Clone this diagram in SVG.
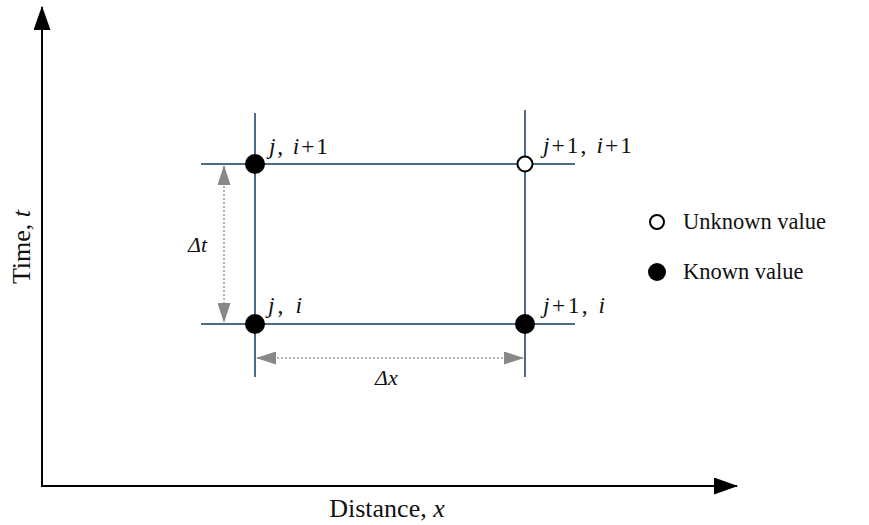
<svg xmlns="http://www.w3.org/2000/svg" width="869" height="525" viewBox="0 0 869 525">
<style>
text{font-family:"Liberation Serif","Times New Roman",serif;font-size:21px;fill:#111}
.i{font-style:italic}
.nl{font-size:23.5px}
.lg{font-size:22.5px}
.ax{font-size:26px}
.grid{stroke:#4a6c8c;stroke-width:2;fill:none}
.axis{stroke:#000;stroke-width:2;fill:none}
.dim{stroke:#999;stroke-width:1.5;stroke-dasharray:2 2;fill:none}
.full{fill:#000}
.open{fill:#fff;stroke:#000;stroke-width:2}
</style>
<defs>
<marker id="ax" markerWidth="24" markerHeight="17" refX="23" refY="8.5" orient="auto" markerUnits="userSpaceOnUse" viewBox="0 0 24 17">
<path d="M0,0 L24,8.5 L0,17 Z" fill="#000"/>
</marker>
<marker id="dm" markerWidth="20" markerHeight="13" refX="19" refY="6.5" orient="auto-start-reverse" markerUnits="userSpaceOnUse" viewBox="0 0 20 13">
<path d="M0,0 L20,6.5 L0,13 Z" fill="#888"/>
</marker>
</defs>
<g id="connectors">
<path class="axis" d="M42,487 L42,7" marker-end="url(#ax)"/>
<path class="axis" d="M41,486 L737,486" marker-end="url(#ax)"/>
<line class="grid" x1="255" y1="113" x2="255" y2="377"/>
<line class="grid" x1="525" y1="110" x2="525" y2="377"/>
<line class="grid" x1="201" y1="164" x2="575" y2="164"/>
<line class="grid" x1="201" y1="324" x2="575" y2="324"/>
<path class="dim" d="M224,166 L224,322" marker-start="url(#dm)" marker-end="url(#dm)"/>
<path class="dim" d="M257,358 L523,358" marker-start="url(#dm)" marker-end="url(#dm)"/>
</g>
<g id="node-j-i1"><circle class="full" cx="255" cy="164" r="10"/><text class="nl" x="269" y="154" textLength="59" lengthAdjust="spacing"><tspan class="i">j</tspan>, <tspan class="i">i</tspan>+1</text></g>
<g id="node-j1-i1"><circle class="open" cx="525" cy="164" r="7.5"/><text class="nl" x="543" y="153" textLength="89" lengthAdjust="spacing"><tspan class="i">j</tspan>+1, <tspan class="i">i</tspan>+1</text></g>
<g id="node-j-i"><circle class="full" cx="255" cy="324" r="10"/><text class="nl" x="268" y="313" textLength="34" lengthAdjust="spacing"><tspan class="i">j</tspan>, <tspan class="i">i</tspan></text></g>
<g id="node-j1-i"><circle class="full" cx="525" cy="324" r="10"/><text class="nl" x="543" y="313" textLength="62" lengthAdjust="spacing"><tspan class="i">j</tspan>+1, <tspan class="i">i</tspan></text></g>
<text class="i" x="188" y="252" style="font-size:22px">Δt</text>
<text class="i" x="375" y="385" style="font-size:22px">Δx</text>
<g id="legend">
<circle class="open" cx="657" cy="222" r="7"/><text class="lg" x="683" y="229">Unknown value</text>
<circle class="full" cx="657" cy="272" r="9"/><text class="lg" x="683" y="279">Known value</text>
</g>
<text class="ax" x="387" y="517" text-anchor="middle">Distance, <tspan class="i">x</tspan></text>
<text class="ax" transform="translate(30,247) rotate(-90)" text-anchor="middle">Time, <tspan class="i">t</tspan></text>
</svg>
